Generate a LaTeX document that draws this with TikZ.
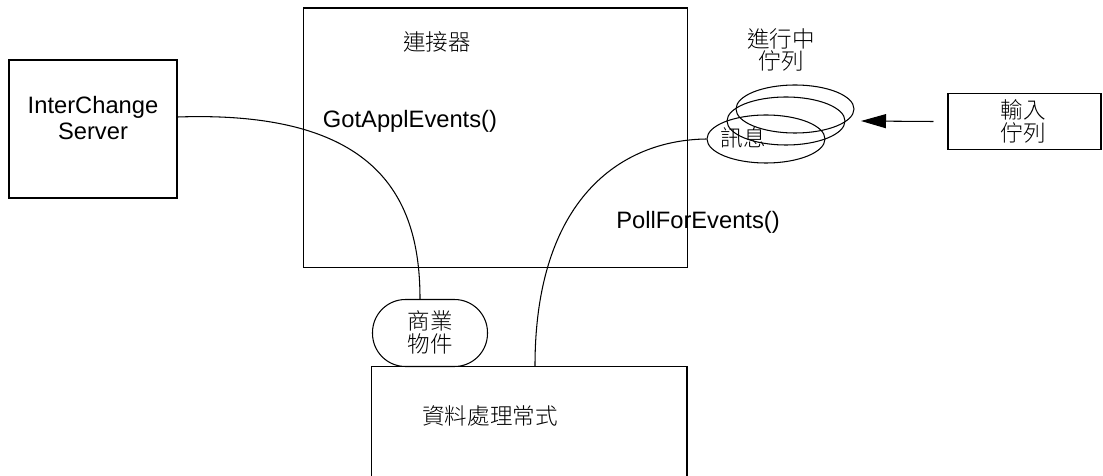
\documentclass[tikz,border=0pt]{standalone}
\usepackage{fontspec}
\setmainfont{Liberation Sans}
\newfontfamily\cjk{Noto Sans CJK TC Light}[Scale=0.95]
\usetikzlibrary{arrows.meta,positioning}
\usetikzlibrary{shapes.geometric}

\begin{document}
\begin{tikzpicture}[x=0.02cm,y=-0.02cm,semithick,
  queue/.style={draw,ellipse,minimum width=2.36cm,minimum height=0.96cm},
  txt/.style={font=\fontsize{13.5}{15}\selectfont,align=center,inner sep=0pt},
  zh/.style={font=\cjk\fontsize{13.5}{13}\selectfont,align=center,inner sep=0pt}]
  \useasboundingbox (0,0) rectangle (1103,476);
  % boxes
  \node[draw,minimum width=3.36cm,minimum height=2.76cm] (srv) at (93,129) {};
  \node[txt] (srvtxt) at (93,118) {InterChange\\Server};
  \node[draw,minimum width=7.7cm,minimum height=5.2cm] (conn) at (495.5,138) {};
  \node[zh] (conntxt) at (437,42) {連接器};
  \node[txt] (got) at (410,121) {GotApplEvents()};
  \node[txt] (poll) at (698,222) {PollForEvents()};
  \node[draw,minimum width=6.32cm,minimum height=2.3cm] (data) at (529,424) {};
  \node[zh] (datatxt) at (490,416) {資料處理常式};
  \node[draw,minimum width=3.06cm,minimum height=1.12cm] (inbox) at (1024.5,121.5) {};
  \node[zh] (intxt) at (1023,121) {輸入\\佇列};
  \node[draw,rounded corners=0.66cm,minimum width=2.3cm,minimum height=1.34cm] (obj) at (430,333) {};
  \node[zh] (objtxt) at (430,332) {商業\\物件};
  % queue
  \node[queue] (q1) at (795,109) {};
  \node[queue] (q2) at (786,121) {};
  \node[queue] (q3) at (766,139) {};
  \node[zh] (qtxt) at (781,50) {進行中\\佇列};
  \node[zh] (msg) at (743,138) {訊息};
  \coordinate (tip) at (861,121);
  % connectors
  \draw ([yshift=0.24cm]srv.east) .. controls (380,110) and (420,200) .. ([xshift=-0.2cm]obj.north);
  \draw ([xshift=0.12cm]data.north) .. controls (535,200) and (620,140) .. (q3.west);
  \draw[-{Triangle[length=5mm,width=2.8mm]}] ([xshift=-0.28cm]inbox.west) -- (tip);
\end{tikzpicture}
\end{document}
